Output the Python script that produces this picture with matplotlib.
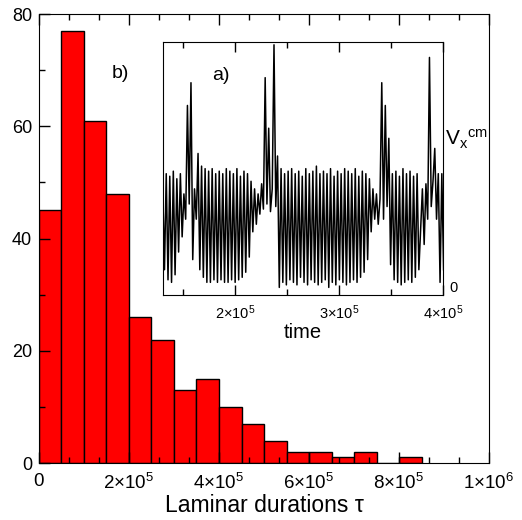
import numpy as np
import matplotlib
matplotlib.use("Agg")
import matplotlib.pyplot as plt
from matplotlib.ticker import MultipleLocator, FixedLocator, FuncFormatter

plt.rcParams["font.family"] = ["Liberation Sans", "DejaVu Sans"]
plt.rcParams["mathtext.fontset"] = "custom"
plt.rcParams["mathtext.rm"] = "Liberation Sans"
plt.rcParams["mathtext.it"] = "Liberation Sans:italic"

# histogram of laminar durations (bin width 5e4)
BIN_WIDTH = 5e4
counts = [45, 77, 61, 48, 26, 22, 13, 15, 10, 7, 4, 2, 2, 1, 2, 0, 1]

# inset: centre-of-mass velocity, sampled every 1700 time units from t = 1.3e5
T_START = 1.3e5
T_STEP = 1700
vx_cm = [
    0.43, 0.10, 0.48, 0.06, 0.47, 0.05, 0.49, 0.08, 0.46, 0.17,
    0.48, 0.23, 0.40, 0.30, 0.75, 0.36, 0.84, 0.14, 0.42, 0.30,
    0.56, 0.10, 0.51, 0.07, 0.50, 0.05, 0.49, 0.05, 0.50, 0.06,
    0.48, 0.05, 0.49, 0.06, 0.48, 0.05, 0.50, 0.05, 0.49, 0.06,
    0.48, 0.05, 0.50, 0.06, 0.47, 0.07, 0.49, 0.09, 0.48, 0.15,
    0.45, 0.25, 0.42, 0.28, 0.40, 0.32, 0.44, 0.34, 0.86, 0.36,
    0.66, 0.33, 0.42, 0.99, 0.35, 0.55, 0.03, 0.50, 0.05, 0.48,
    0.04, 0.49, 0.06, 0.50, 0.05, 0.48, 0.04, 0.49, 0.07, 0.47,
    0.05, 0.50, 0.04, 0.48, 0.06, 0.49, 0.05, 0.51, 0.04, 0.48,
    0.05, 0.49, 0.06, 0.48, 0.03, 0.50, 0.05, 0.47, 0.04, 0.49,
    0.06, 0.48, 0.05, 0.50, 0.04, 0.49, 0.05, 0.48, 0.06, 0.50,
    0.05, 0.47, 0.07, 0.49, 0.09, 0.48, 0.14, 0.46, 0.25, 0.42,
    0.30, 0.40, 0.28, 0.38, 0.84, 0.30, 0.75, 0.35, 0.62, 0.12,
    0.48, 0.06, 0.49, 0.05, 0.47, 0.04, 0.50, 0.05, 0.48, 0.06,
    0.49, 0.05, 0.47, 0.07, 0.48, 0.10, 0.26, 0.42, 0.20, 0.44,
    0.30, 0.94, 0.35, 0.45, 0.58, 0.30, 0.48, 0.05, 0.48, 0.10,
]


def sci(x, pos):
    if abs(x) < 1:
        return "0"
    if x < 0:
        return ""
    exp = int(np.floor(np.log10(x) + 1e-9))
    mant = x / 10 ** exp
    return r"$\mathregular{%d{\times}10^{%d}}$" % (round(mant), exp)


fig = plt.figure(figsize=(5.22, 5.20), dpi=100)
ax = fig.add_axes([0.0747, 0.1096, 0.8621, 0.8634])

edges = np.arange(len(counts)) * BIN_WIDTH
ax.bar(edges, counts, width=BIN_WIDTH, align="edge", color="#ff0000",
       edgecolor="black", linewidth=1.0)
ax.set_xlim(0, 1e6)
ax.set_ylim(0, 80)
ax.xaxis.set_major_locator(MultipleLocator(2e5))
ax.xaxis.set_minor_locator(MultipleLocator(2e5 / 3))
ax.yaxis.set_major_locator(MultipleLocator(20))
ax.yaxis.set_minor_locator(MultipleLocator(10))
ax.xaxis.set_major_formatter(FuncFormatter(sci))
ax.tick_params(which="both", direction="in", top=True, right=False)
ax.tick_params(which="major", length=7.7, width=1)
ax.tick_params(which="minor", length=4, width=1)
ax.tick_params(axis="y", labelsize=13, pad=5)
ax.tick_params(axis="x", labelsize=13.5, pad=7)
ax.set_xlabel("Laminar durations τ", fontsize=16.5, labelpad=1)
ax.text(1.62e5, 68.6, "b)", fontsize=14)

# inset
ax_in = fig.add_axes([0.3117, 0.4327, 0.5375, 0.4860])
t = T_START + np.arange(len(vx_cm)) * T_STEP
ax_in.plot(t, vx_cm, color="black", lw=1.1)
ax_in.set_xlim(1.3e5, 4e5)
ax_in.set_ylim(0, 1)
ax_in.xaxis.set_major_locator(FixedLocator([2e5, 3e5, 4e5]))
ax_in.xaxis.set_minor_locator(FixedLocator([1.5e5, 2.5e5, 3.5e5]))
ax_in.xaxis.set_major_formatter(FuncFormatter(sci))
ax_in.set_yticks([])
ax_in.tick_params(which="both", direction="in", top=True, labelsize=10.5, pad=6)
ax_in.tick_params(which="major", length=7, width=1)
ax_in.tick_params(which="minor", length=4, width=1)
ax_in.set_xlabel("time", fontsize=14.5, labelpad=1)
ax_in.text(0.175, 0.85, "a)", transform=ax_in.transAxes, fontsize=14)
ax_in.text(1.022, 0.0, "0", transform=ax_in.transAxes, fontsize=10.5,
           ha="left", va="bottom")
ax_in.text(1.005, 0.617, r"$\mathregular{V_x{}^{cm}}$", transform=ax_in.transAxes,
           fontsize=15, ha="left", va="center")

fig.savefig("out.png", dpi=100)
